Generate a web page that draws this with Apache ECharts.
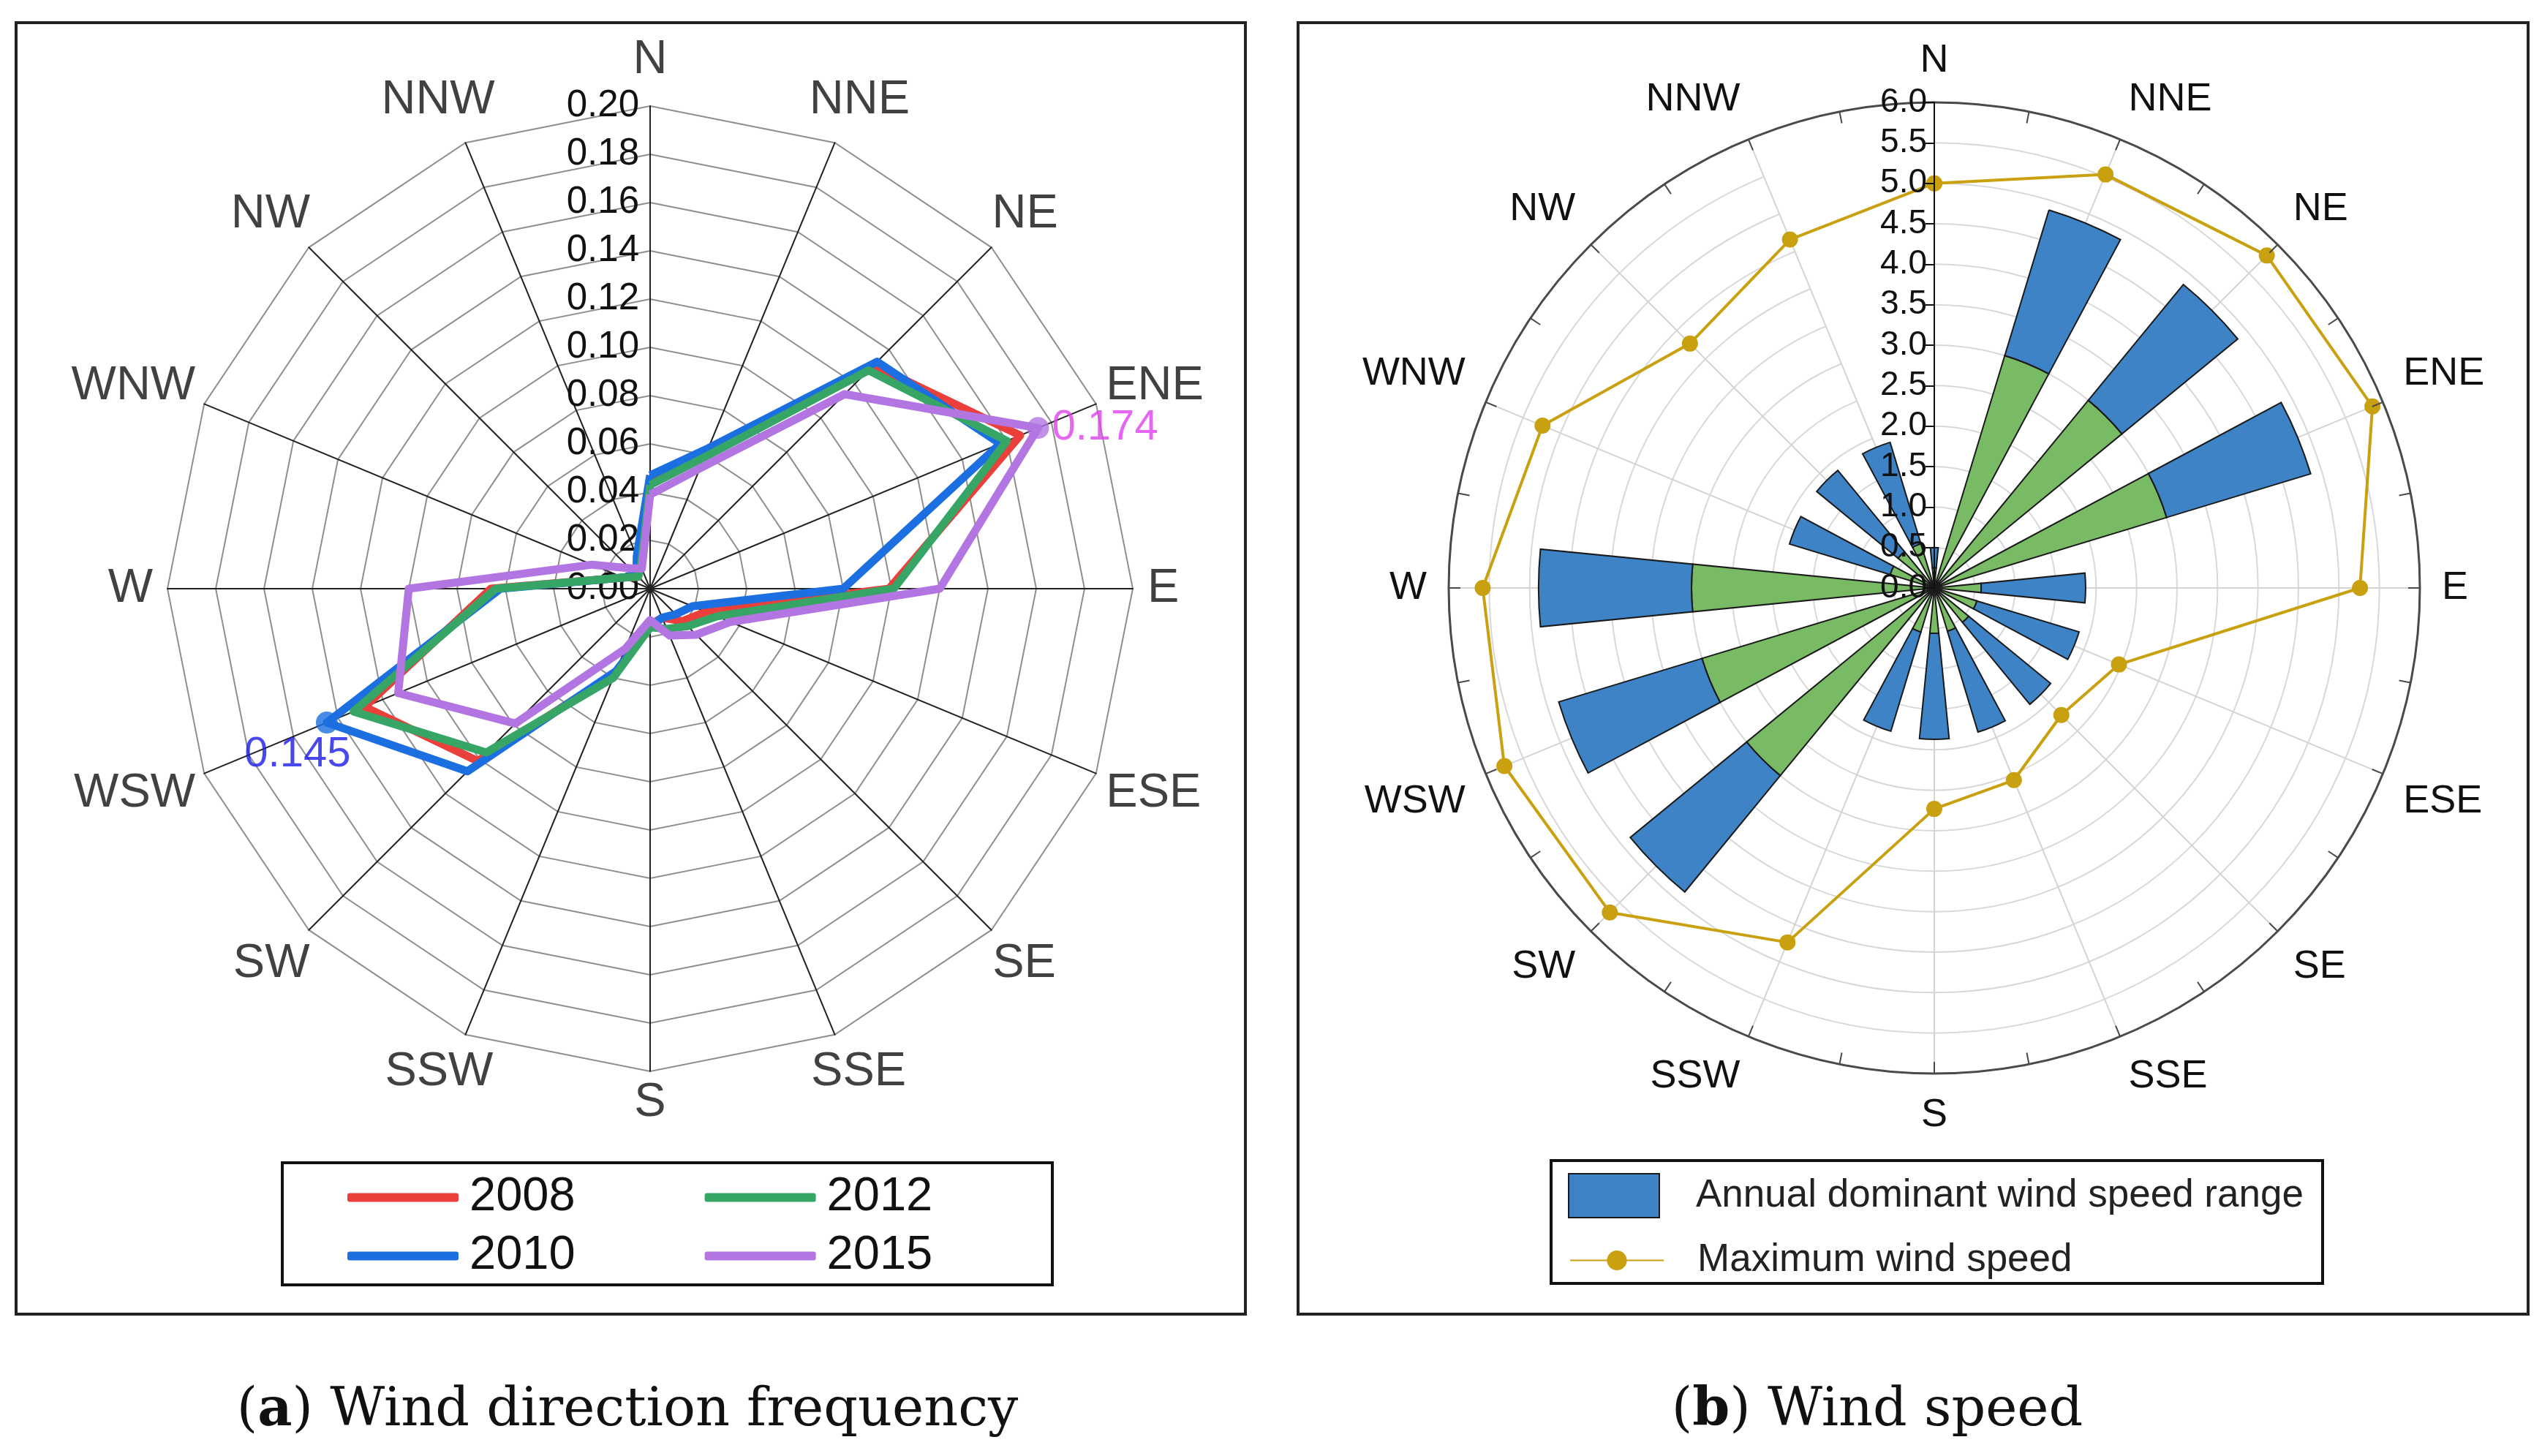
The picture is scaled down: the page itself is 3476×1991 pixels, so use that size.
<!DOCTYPE html>
<html><head><meta charset="utf-8">
<script src="https://cdn.jsdelivr.net/npm/echarts@6/dist/echarts.min.js"></script>
<style>html,body{margin:0;padding:0;background:#fff}#c{width:3476px;height:1991px}</style>
</head><body><div id="c"></div>
<script>
// ---------- data ----------
const directions = ['N','NNE','NE','ENE','E','ESE','SE','SSE','S','SSW','SW','WSW','W','WNW','NW','NNW'];
const freq2008 = [0.045,0.060,0.131,0.166,0.099,0.025,0.019,0.013,0.015,0.038,0.101,0.128,0.066,0.012,0.007,0.011];
const freq2010 = [0.047,0.063,0.133,0.157,0.080,0.019,0.015,0.013,0.016,0.037,0.107,0.145,0.062,0.012,0.008,0.0145];
const freq2012 = [0.043,0.059,0.128,0.160,0.101,0.030,0.022,0.018,0.016,0.040,0.096,0.133,0.064,0.012,0.007,0.010];
const freq2015 = [0.039,0.054,0.114,0.174,0.120,0.036,0.027,0.021,0.013,0.027,0.079,0.113,0.100,0.026,0.012,0.009];
const freqYears = ['2008','2010','2012','2015'];
const freqMax = 0.20;
const markedPoints = [{year: '2015', dir: 'ENE'}, {year: '2010', dir: 'WSW'}];

const speedLower = [0.25,3.0,3.0,3.0,0.58,0.55,0.55,0.56,0.56,0.57,3.0,3.0,3.0,0.57,0.58,0.57];
const speedUpper = [0.50,4.88,4.85,4.86,1.87,1.87,1.86,1.86,1.87,1.85,4.86,4.85,4.89,1.87,1.88,1.88];
const speedMaxWind = [5.0,5.53,5.81,5.86,5.26,2.47,2.22,2.57,2.73,4.74,5.67,5.75,5.58,5.24,4.27,4.66];
const speedAxisMax = 6.0;

// ---------- helpers ----------
const FONT = 'Liberation Sans, Arial, sans-serif';
const step = 360 / directions.length;
const ccwOrder = directions.map((d, i) => (directions.length - i) % directions.length);
const reorder = arr => ccwOrder.map(i => arr[i]);

const yearData = {'2008': freq2008, '2010': freq2010, '2012': freq2012, '2015': freq2015};
const yearColor = {'2008': '#ea3f3a', '2010': '#1c6fe0', '2012': '#36a566', '2015': '#b275e2'};
const labelColor = {'2015': '#e040f0', '2010': '#1a1ae8'};
const labelPos = {'2015': {position: 'right', distance: 4, offset: [0, 0]},
                  '2010': {position: 'bottom', distance: 0, offset: [-40, 0]}};

const indicators = ccwOrder.map(i => ({name: directions[i], min: 0, max: freqMax}));
indicators[0].axisLabel = {show: true};

const radarSeries = freqYears.map(y => ({
  type: 'radar', name: y, radarIndex: 0,
  symbol: 'none',
  itemStyle: {color: yearColor[y]},
  lineStyle: {color: yearColor[y], width: 11},
  data: [{value: reorder(yearData[y]), name: y}],
  z: 2
}));

// left chart geometry (style constants)
const LR = 660;             // radar radius, px
const polarExt = 1.3;       // helper polar extends beyond radar
const nameFont = 65;
const ctx = document.createElement('canvas').getContext('2d');
ctx.font = nameFont + 'px Liberation Sans';
const nameData = directions.map((d, i) => {
  const th = i * step * Math.PI / 180;
  const s = Math.sin(th), c = Math.cos(th);
  const w = ctx.measureText(d).width;
  const hh = nameFont * 0.36;
  const gap = 20, extraTop = 20, extraBottom = 32;
  const x = (LR + gap) * s + (w / 2) * s;
  const y = -(LR + gap) * c - hh * c - extraTop * Math.max(0, c)
            + extraBottom * Math.max(0, -c) * Math.abs(s);
  const rpx = Math.hypot(x, y);
  let ang = Math.atan2(x, -y) * 180 / Math.PI;
  if (ang < 0) ang += 360;
  return {value: [freqMax * rpx / LR, ang], name: d};
});

const chart = echarts.init(document.getElementById('c'), null, {renderer: 'canvas'});
chart.setOption({
  backgroundColor: '#fff',
  animation: false,
  radar: [{
    center: [889, 805], radius: LR, startAngle: 90, shape: 'polygon',
    splitNumber: 10, indicator: indicators,
    axisName: {show: false},
    axisLine: {lineStyle: {color: '#222', width: 2}},
    splitLine: {lineStyle: {color: '#8f8f8f', width: 2}},
    splitArea: {show: false},
    axisTick: {show: false},
    axisLabel: {show: false, fontSize: 51, color: '#111', fontFamily: FONT, margin: 15,
      formatter: v => Number(v).toFixed(2)}
  }],
  polar: [
    {center: [2645, 804], radius: 664},
    {center: [2645, 804], radius: 664},
    {center: [889, 805], radius: LR * polarExt}
  ],
  angleAxis: [
    {polarIndex: 0, type: 'category', data: directions, startAngle: 90, boundaryGap: false, clockwise: true,
      axisLine: {show: false}, axisTick: {show: false},
      splitLine: {show: true, lineStyle: {color: '#d4d4d4', width: 2}},
      axisLabel: {interval: 0, fontSize: 54, color: '#111', fontFamily: FONT, margin: 30}, z: 0},
    {polarIndex: 1, type: 'value', min: 0, max: 360, interval: step / 2, startAngle: 90, clockwise: true,
      axisLine: {show: true, lineStyle: {color: '#4a4a4a', width: 3}},
      axisTick: {show: true, inside: true, length: 16, lineStyle: {color: '#4a4a4a', width: 2}},
      axisLabel: {show: false}, splitLine: {show: false}, z: 5},
    {polarIndex: 2, type: 'value', min: 0, max: 360, startAngle: 90, clockwise: true, show: false}
  ],
  radiusAxis: [
    {polarIndex: 0, type: 'value', min: 0, max: speedAxisMax, interval: 0.5,
      axisLine: {show: false}, axisTick: {show: false}, axisLabel: {show: false},
      splitLine: {show: true, lineStyle: {color: '#d8d8d8', width: 2}}, z: 0},
    {polarIndex: 1, type: 'value', min: 0, max: speedAxisMax, interval: 0.5,
      axisLine: {show: true, lineStyle: {color: '#111', width: 2}},
      axisTick: {show: true, length: 12, lineStyle: {color: '#111', width: 2}},
      axisLabel: {fontSize: 46, color: '#111', fontFamily: FONT, margin: 10, formatter: v => Number(v).toFixed(1)},
      splitLine: {show: false}, z: 10},
    {polarIndex: 2, type: 'value', min: 0, max: freqMax * polarExt, show: false}
  ],
  legend: [
    {data: ['2008','2012'], left: 475, top: 1605, orient: 'horizontal', icon: 'roundRect',
      itemWidth: 152, itemHeight: 12, itemGap: 177, padding: 0,
      itemStyle: {borderWidth: 0},
      textStyle: {fontSize: 65, color: '#111', fontFamily: FONT, padding: [0,0,0,10]}},
    {data: ['2010','2015'], left: 475, top: 1685, orient: 'horizontal', icon: 'roundRect',
      itemWidth: 152, itemHeight: 12, itemGap: 177, padding: 0,
      itemStyle: {borderWidth: 0},
      textStyle: {fontSize: 65, color: '#111', fontFamily: FONT, padding: [0,0,0,10]}},
    {data: ['Annual dominant wind speed range'], left: 2144, top: 1604, icon: 'rect',
      itemWidth: 124, itemHeight: 60, padding: 0,
      textStyle: {fontSize: 53, color: '#222', fontFamily: FONT, padding: [0,0,0,45]}},
    {data: ['Maximum wind speed'], left: 2146, top: 1697,
      itemWidth: 128, itemHeight: 34, padding: 0,
      textStyle: {fontSize: 53, color: '#222', fontFamily: FONT, padding: [0,0,0,41]}}
  ],
  series: [
    ...radarSeries,
    {type: 'scatter', coordinateSystem: 'polar', polarIndex: 2, symbolSize: 30, z: 6, clip: false,
      data: markedPoints.map(p => {
        const i = directions.indexOf(p.dir);
        const v = yearData[p.year][i];
        return {value: [v, i * step], itemStyle: {color: yearColor[p.year]},
          label: Object.assign({show: true, color: labelColor[p.year], fontSize: 58, fontFamily: FONT,
            formatter: () => v.toFixed(3)}, labelPos[p.year])};
      })},
    {type: 'scatter', name: 'dirNames', coordinateSystem: 'polar', polarIndex: 2, clip: false, z: 6,
      symbolSize: 1, itemStyle: {color: 'rgba(0,0,0,0)'}, silent: true,
      label: {show: true, position: 'inside', formatter: '{b}', color: '#111', fontSize: nameFont, fontFamily: FONT},
      data: nameData},
    {type: 'bar', name: 'base', coordinateSystem: 'polar', polarIndex: 0, stack: 'ws', barWidth: '50%',
      itemStyle: {color: '#79bb64', borderColor: '#1a1a1a', borderWidth: 2}, z: 2,
      data: speedLower},
    {type: 'bar', name: 'Annual dominant wind speed range', coordinateSystem: 'polar', polarIndex: 0, stack: 'ws', barWidth: '50%',
      itemStyle: {color: '#3d83c6', borderColor: '#1a1a1a', borderWidth: 2}, z: 2,
      data: speedUpper.map((u, i) => +(u - speedLower[i]).toFixed(3))},
    {type: 'line', name: 'Maximum wind speed', coordinateSystem: 'polar', polarIndex: 1,
      symbol: 'circle', symbolSize: 22, z: 4,
      itemStyle: {color: '#c9a00f'}, lineStyle: {color: '#c9a00f', width: 4},
      data: speedMaxWind.map((v, i) => [v, i * step]).concat([[speedMaxWind[0], 360]])}
  ],
  graphic: [
    {type: 'rect', shape: {x: 22, y: 31, width: 1681, height: 1766}, style: {fill: 'none', stroke: '#222', lineWidth: 4}},
    {type: 'rect', shape: {x: 1775, y: 31, width: 1682, height: 1766}, style: {fill: 'none', stroke: '#222', lineWidth: 4}},
    {type: 'rect', shape: {x: 386, y: 1590, width: 1053, height: 167}, style: {fill: 'none', stroke: '#111', lineWidth: 4}},
    {type: 'rect', shape: {x: 2121, y: 1587, width: 1055, height: 168}, style: {fill: 'none', stroke: '#111', lineWidth: 4}},
    {type: 'text', x: 858, y: 1930, style: {text: '({b|a}) Wind direction frequency', fill: '#111',
      fontSize: 73, fontFamily: 'DejaVu Serif, serif', align: 'center', verticalAlign: 'middle',
      rich: {b: {fontWeight: 'bold', fontSize: 73, fontFamily: 'DejaVu Serif, serif', fill: '#111'}}}},
    {type: 'text', x: 2567, y: 1930, style: {text: '({b|b}) Wind speed', fill: '#111',
      fontSize: 73, fontFamily: 'DejaVu Serif, serif', align: 'center', verticalAlign: 'middle',
      rich: {b: {fontWeight: 'bold', fontSize: 73, fontFamily: 'DejaVu Serif, serif', fill: '#111'}}}}
  ]
});
</script></body></html>
